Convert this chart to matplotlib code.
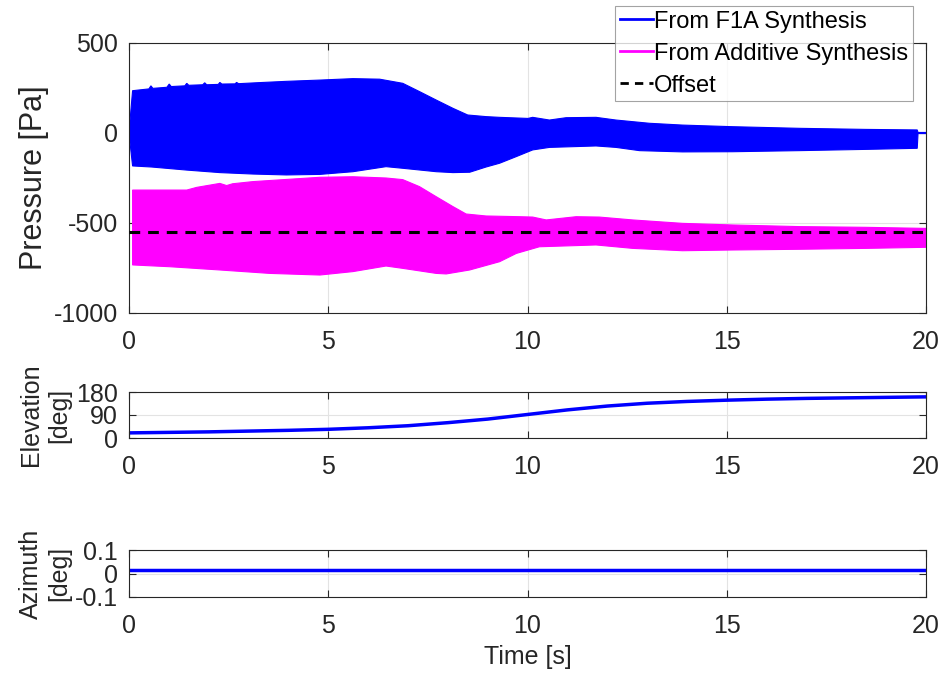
import matplotlib
matplotlib.use("Agg")
import matplotlib.pyplot as plt
import numpy as np
from matplotlib.lines import Line2D

plt.rcParams["font.family"] = ["Liberation Sans", "DejaVu Sans"]
plt.rcParams["axes.unicode_minus"] = False

# pressure envelopes (time [s], pressure [Pa])
f1a_up_t = [0.0, 0.09, 0.50, 0.55, 0.60, 0.95, 1.01, 1.06, 1.40, 1.45, 1.50,
            1.85, 1.90, 1.95, 2.24, 2.28, 2.33, 2.66, 2.70, 2.75, 3.28, 3.95,
            4.79, 5.62, 6.29, 6.87, 7.29, 7.71, 8.13, 8.50, 8.96, 9.30, 10.01,
            10.13, 10.55, 10.97, 11.72, 12.22, 13.06, 13.89, 15.15, 16.82,
            18.49, 19.78, 19.80, 20.0]
f1a_up_p = [3, 235, 245, 262, 248, 254, 272, 258, 262, 276, 265,
            268, 279, 268, 270, 281, 272, 273, 281, 274, 280, 287,
            294, 302, 299, 276, 230, 183, 137, 100, 91, 87, 81,
            87, 72, 85, 87, 72, 54, 44, 35, 26,
            20, 17, 3, 3]
f1a_lo_t = [0.0, 0.09, 0.57, 1.45, 2.28, 3.11, 3.95, 4.79, 5.62, 6.45, 6.87,
            7.71, 8.13, 8.55, 8.96, 9.30, 9.72, 10.13, 10.55, 11.72, 12.22,
            12.81, 13.89, 15.15, 16.82, 18.49, 19.78, 19.80, 20.0]
f1a_lo_p = [-3, -183, -189, -206, -220, -228, -233, -230, -215, -187, -196,
            -215, -220, -218, -189, -168, -131, -94, -80, -72, -80,
            -98, -105, -104, -98, -91, -85, -3, -3]

add_up_t = [0.09, 1.45, 1.70, 2.28, 2.45, 2.60, 3.11, 3.95, 4.79, 5.62, 6.45,
            6.87, 7.29, 7.71, 8.13, 8.46, 8.96, 9.80, 10.13, 10.47, 11.22,
            11.80, 12.64, 13.89, 15.15, 16.82, 18.49, 20.0]
add_up_p = [-317, -317, -302, -280, -292, -282, -270, -258, -246, -243, -250,
            -259, -298, -354, -409, -450, -461, -465, -467, -483, -465,
            -467, -483, -502, -511, -520, -524, -530]
add_lo_t = [0.09, 1.03, 2.28, 3.53, 4.79, 5.62, 6.45, 6.87, 7.71, 7.96, 8.55,
            9.30, 9.72, 10.30, 11.72, 12.64, 13.89, 15.15, 16.82, 18.49, 20.0]
add_lo_p = [-733, -743, -761, -780, -789, -770, -739, -752, -780, -783, -761,
            -715, -669, -632, -622, -641, -654, -650, -646, -641, -635]

offset_t = [0, 20]
offset_p = [-550, -550]

# source angles
elev_t = [0, 2, 4, 5, 6, 7, 8, 9, 10, 11, 12, 13, 14, 15, 16, 17, 18, 19, 20]
elev_deg = [20, 24, 30, 34, 40, 48, 60, 74, 92, 110, 125, 136, 143, 148, 152,
            155, 157, 159, 161]
azim_t = [0, 20]
azim_deg = [0.015, 0.015]

blue = (0, 0, 1)
magenta = (1, 0, 1)
axis_col = "#262626"
fs = 18


def style(ax, yticks, yticklabels):
    ax.set_xlim(0, 20)
    ax.set_xticks([0, 5, 10, 15, 20])
    ax.set_yticks(yticks)
    ax.set_yticklabels(yticklabels)
    ax.tick_params(direction="in", top=True, right=True, length=5,
                   width=0.8, color=axis_col, labelsize=fs,
                   labelcolor=axis_col)
    ax.tick_params(axis="x", pad=12)
    ax.tick_params(axis="y", pad=8)
    for s in ax.spines.values():
        s.set_color(axis_col)
        s.set_linewidth(0.8)
    ax.grid(True, color="#e3e3e3", linewidth=0.8)
    ax.set_axisbelow(True)


fig = plt.figure(figsize=(9.43, 6.73), dpi=100)
W, H = 943, 673
left, right = 129 / W, 926 / W
ax1 = fig.add_axes([left, 1 - 313 / H, right - left, 270 / H])
ax2 = fig.add_axes([left, 1 - 438 / H, right - left, 46 / H])
ax3 = fig.add_axes([left, 1 - 597 / H, right - left, 47 / H])

# pressure bands (dense oscillation drawn as its envelope)
ax1.fill(np.concatenate([f1a_up_t, f1a_lo_t[::-1]]),
         np.concatenate([f1a_up_p, f1a_lo_p[::-1]]),
         color=blue, linewidth=0.8, zorder=2)
ax1.fill(np.concatenate([add_up_t, add_lo_t[::-1]]),
         np.concatenate([add_up_p, add_lo_p[::-1]]),
         color=magenta, linewidth=0.8, zorder=2)
ax1.plot(offset_t, offset_p, color="black", linestyle="--", dashes=(3.5, 2.6),
         linewidth=2.2, zorder=3)
ax1.set_ylim(-1000, 500)
style(ax1, [-1000, -500, 0, 500], ["-1000", "-500", "0", "500"])
ax1.set_ylabel("Pressure [Pa]", fontsize=22, color=axis_col)
ax1.yaxis.set_label_coords(-0.101, 0.5)

handles = [Line2D([], [], color=blue, linewidth=2),
           Line2D([], [], color=magenta, linewidth=2),
           Line2D([], [], color="black", linestyle="--", dashes=(3, 2.2),
                  linewidth=2)]
labels = ["From F1A Synthesis", "From Additive Synthesis", "Offset"]
leg = fig.legend(handles, labels, loc="upper right",
                 bbox_to_anchor=(913 / W, 1 - 6 / H), fontsize=17,
                 frameon=True, fancybox=False, handlelength=1.4,
                 handletextpad=0.05, labelspacing=0.42, borderpad=0.2,
                 borderaxespad=0)
leg.get_frame().set_edgecolor("#8c8c8c")
leg.get_frame().set_linewidth(0.8)
for t in leg.get_texts():
    t.set_color("black")

ax2.plot(elev_t, elev_deg, color=blue, linewidth=2.5)
ax2.set_ylim(0, 180)
style(ax2, [0, 90, 180], ["0", "90", "180"])
ax2.set_ylabel("Elevation\n[deg]", fontsize=fs, color=axis_col,
               linespacing=1.2)
ax2.yaxis.set_label_coords(-0.073, 0.5)

ax3.plot(azim_t, azim_deg, color=blue, linewidth=2.5)
ax3.set_ylim(-0.1, 0.1)
style(ax3, [-0.1, 0, 0.1], ["-0.1", "0", "0.1"])
ax3.set_ylabel("Azimuth\n[deg]", fontsize=fs, color=axis_col,
               linespacing=1.2)
ax3.yaxis.set_label_coords(-0.073, 0.5)
ax3.set_xlabel("Time [s]", fontsize=fs, color=axis_col)
ax3.xaxis.set_label_coords(0.5, -1.02)

fig.savefig("out.png", dpi=100)
